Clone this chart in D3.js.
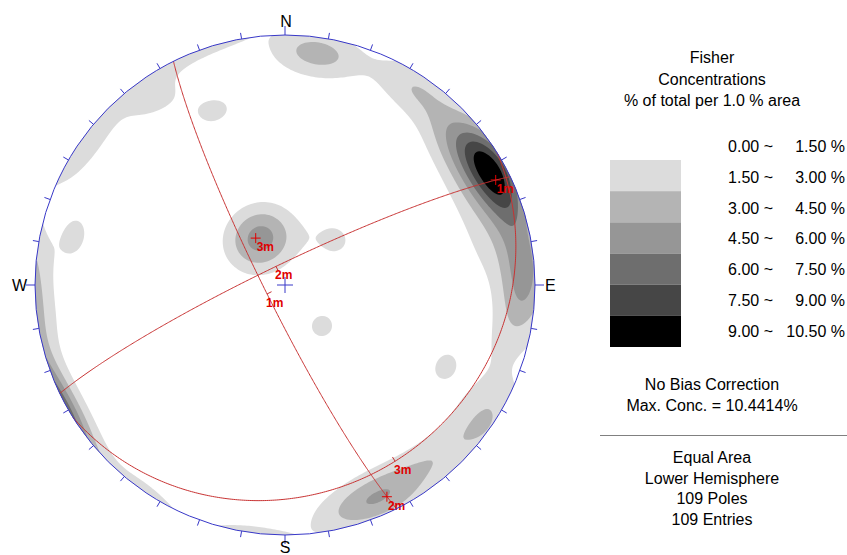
<!DOCTYPE html>
<html><head><meta charset="utf-8">
<script src="https://cdn.jsdelivr.net/npm/d3@7"></script>
<style>
body{margin:0;background:#fff;}
text{font-family:"Liberation Sans",Arial,sans-serif;}
</style></head><body>
<svg id="c" width="847" height="555"></svg>
<script>
// ---- data: poles (trend, plunge, count) ----
const poleTrend  = [58,62,66,54, 80,85,90,95,75,70, 61,50,55,64,78,74,85, 48,35,30,
                    262,300,217,
                    105,122,125,135,142,147,154,159,165,170,
                    332,312,350, 8,12,3, 308,325, 338,48,138,283,116,119];
const polePlunge = [5,6,6,7, 5,5,5,6,6,8, 13,10,18,21,14,24,24, 14,8,6,
                    10,4,3,
                    11,6,9,10,9,13,8,9,6,4,
                    73,72,70, 7,9,6, 3,10, 26,68,72,15,30,28];
const poleCount  = [4,6,5,3, 2,3,3,3,2,1, 2,2,1,1,1,1,1, 2,3,2,
                    1,1,1,
                    2,3,1,2,2,1,4,3,2,1,
                    8,1,1, 5,1,1, 2,3, 3,3,3,3,2,1];
const fisherK = 60;
const contourLevels = [1.5, 3, 4.5, 6, 7.5, 9];
const levelColors = ["#dcdcdc","#b4b4b4","#969696","#6e6e6e","#464646","#000000"];
const legendFrom = ["0.00","1.50","3.00","4.50","6.00","7.50","9.00"];
const legendTo   = ["1.50","3.00","4.50","6.00","7.50","9.00","10.50"];
const setNames  = ["1m","2m","3m"];
const setDip    = [83.5, 83.3, 18];
const setDipDir = [243.5, 334.3, 148];
const compassLabels = ["N","E","S","W"];
const titleLines = ["Fisher","Concentrations","% of total per 1.0 % area"];
const infoLines1 = ["No Bias Correction","Max. Conc. = 10.4414%"];
const infoLines2 = ["Equal Area","Lower Hemisphere","109 Poles","109 Entries"];

// ---- layout ----
const R = 250, cx = 285, cy = 285;
const svg = d3.select("#c");
const proj = d3.geoAzimuthalEqualArea().rotate([0,-90]).scale(R/Math.SQRT2)
  .translate([cx,cy]).clipAngle(90).precision(0.1);
const geo = (trend, plunge) => [180 - trend, plunge];
const path = d3.geoPath(proj);
const rad = Math.PI/180;
const vec = (t,p) => [Math.sin(t*rad)*Math.cos(p*rad), Math.cos(t*rad)*Math.cos(p*rad), Math.sin(p*rad)];

// ---- density grid (Fisher counting) ----
const N = d3.sum(poleCount);
const poles = poleTrend.map((t,i)=>({v:vec(t,polePlunge[i]), n:poleCount[i]}));
const step = 2, x0 = cx - R - 6, y0 = cy - R - 6;
const gn = Math.ceil((2*R+12)/step) + 1;
const values = new Float64Array(gn*gn);
for (let j=0;j<gn;j++) for (let i=0;i<gn;i++){
  let px = x0 + i*step, py = y0 + j*step;
  let dx = px-cx, dy = py-cy, r = Math.hypot(dx,dy);
  if (r > R-0.01){ px = cx + dx/r*(R-0.01); py = cy + dy/r*(R-0.01); }
  const ll = proj.invert([px,py]);
  const v = vec(180 - ll[0], ll[1]);
  let s = 0;
  for (const p of poles){
    const c = Math.abs(v[0]*p.v[0]+v[1]*p.v[1]+v[2]*p.v[2]);
    s += p.n*Math.exp(fisherK*(c-1));
  }
  values[j*gn+i] = fisherK/N*s;
}
const contours = d3.contours().size([gn,gn]).thresholds(contourLevels)(values);
const gridPath = d3.geoPath(d3.geoTransform({point(x,y){this.stream.point(x0+(x-0.5)*step, y0+(y-0.5)*step);}}));

svg.append("clipPath").attr("id","net").append("circle").attr("cx",cx).attr("cy",cy).attr("r",R);
svg.append("g").attr("clip-path","url(#net)").selectAll("path").data(contours).join("path")
  .attr("d",gridPath).attr("fill",(d,i)=>levelColors[i]).attr("stroke","none");

// ---- great circles & poles ----
const red = "#c83232", redText = "#e00000";
const gc = svg.append("g");
setNames.forEach((name,i)=>{
  const pt = setDipDir[i]+180, pp = 90-setDip[i];
  const circ = d3.geoCircle().center(geo(pt,pp)).radius(90).precision(0.5)();
  gc.append("path").datum({type:"LineString",coordinates:circ.coordinates[0]})
    .attr("d",path).attr("fill","none").attr("stroke",red).attr("stroke-width",1);
  const [px,py] = proj(geo(pt,pp));
  gc.append("path").attr("d",`M${px-5},${py}H${px+5}M${px},${py-5}V${py+5}`).attr("stroke",redText).attr("stroke-width",1);
  gc.append("text").attr("x",px+1).attr("y",py+13).text(name).attr("fill",redText)
    .attr("font-size",12).attr("font-weight","bold");
  const [dx,dy] = proj(geo(setDipDir[i],setDip[i]));
  const ux = Math.sin(pt*rad), uy = -Math.cos(pt*rad);
  gc.append("path").attr("d",`M${dx},${dy}L${dx+ux*5},${dy+uy*5}`).attr("stroke",red);
  gc.append("text").attr("x",dx-1).attr("y",dy+13).text(name).attr("fill",redText)
    .attr("font-size",12).attr("font-weight","bold");
});

// ---- net frame ----
const blue = "#3838c8";
svg.append("circle").attr("cx",cx).attr("cy",cy).attr("r",R).attr("fill","none").attr("stroke",blue).attr("stroke-width",1);
d3.range(0,360,10).forEach(a=>{
  const len = a%90===0 ? 9 : 6;
  const ux = Math.sin(a*rad), uy = -Math.cos(a*rad);
  svg.append("line").attr("x1",cx+ux*R).attr("y1",cy+uy*R).attr("x2",cx+ux*(R+len)).attr("y2",cy+uy*(R+len))
    .attr("stroke",blue).attr("stroke-width",1);
});
svg.append("path").attr("d",`M${cx-8},${cy}H${cx+8}M${cx},${cy-8}V${cy+8}`).attr("stroke",blue);
const cpos = [[cx+1,27,"middle"],[545,291,"start"],[cx,553,"middle"],[27,291,"end"]];
compassLabels.forEach((l,i)=>svg.append("text").attr("x",cpos[i][0]).attr("y",cpos[i][1])
  .attr("text-anchor",cpos[i][2]).attr("font-size",16).text(l));

// ---- legend ----
const lg = svg.append("g").attr("font-size",16).attr("fill","#000");
titleLines.forEach((t,i)=>lg.append("text").attr("x",712).attr("y",63+i*21.5).attr("text-anchor","middle").text(t));
const by = d3.scaleLinear().domain([0,6]).range([160,347]);
levelColors.forEach((c,i)=>lg.append("rect").attr("x",610).attr("y",by(i)).attr("width",71).attr("height",by(i+1)-by(i)).attr("fill",c));
legendFrom.forEach((f,i)=>{
  lg.append("text").attr("x",773).attr("y",152+i*30.8).attr("text-anchor","end").text(f+" ~");
  lg.append("text").attr("x",845).attr("y",152+i*30.8).attr("text-anchor","end").text(legendTo[i]+" %");
});
infoLines1.forEach((t,i)=>lg.append("text").attr("x",712).attr("y",390+i*21).attr("text-anchor","middle").text(t));
lg.append("line").attr("x1",600).attr("x2",847).attr("y1",435.5).attr("y2",435.5).attr("stroke","#808080");
infoLines2.forEach((t,i)=>lg.append("text").attr("x",712).attr("y",463+i*20.7).attr("text-anchor","middle").text(t));
</script></body></html>
